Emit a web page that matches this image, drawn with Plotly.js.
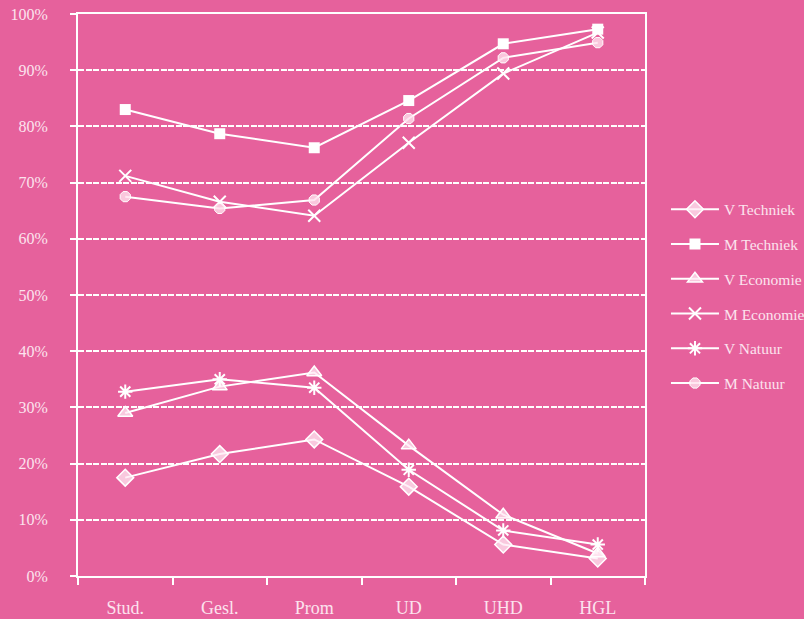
<!DOCTYPE html>
<html>
<head>
<meta charset="utf-8">
<script src="https://cdn.plot.ly/plotly-3.0.1.min.js"></script>
<style>html,body{margin:0;padding:0;background:#E6619C;}#chart{width:804px;height:619px;}</style>
</head>
<body>
<div id="chart"></div>
<script>
var categories = ["Stud.", "Gesl.", "Prom", "UD", "UHD", "HGL"];
var vTechniek = [17.5, 21.7, 24.3, 15.9, 5.6, 3.1];
var mTechniek = [83.0, 78.7, 76.2, 84.6, 94.7, 97.3];
var vEconomie = [29.0, 33.7, 36.2, 23.2, 10.9, 4.0];
var mEconomie = [71.2, 66.6, 64.1, 77.1, 89.4, 96.7];
var vNatuur = [32.8, 35.0, 33.5, 18.9, 8.1, 5.6];
var mNatuur = [67.5, 65.4, 66.9, 81.4, 92.2, 94.9];
var seriesNames = ["V Techniek", "M Techniek", "V Economie", "M Economie", "V Natuur", "M Natuur"];

var bg = "#E6619C";
var txt = "#FCE3EE";
var seriesData = [vTechniek, mTechniek, vEconomie, mEconomie, vNatuur, mNatuur];
var markers = [
  {symbol: "diamond", size: 13, color: "rgba(255,235,244,0.75)", line: {color: "#ffffff", width: 1.5}},
  {symbol: "square", size: 11, color: "#ffffff", line: {color: "#ffffff", width: 0}},
  {symbol: "triangle-up", size: 13, color: "rgba(255,235,244,0.75)", line: {color: "#ffffff", width: 1.5}},
  {symbol: "x-thin-open", size: 12, color: "#ffffff", line: {color: "#ffffff", width: 2}},
  {symbol: "asterisk-open", size: 12, color: "#ffffff", line: {color: "#ffffff", width: 2}},
  {symbol: "octagon", size: 11, color: "rgba(255,225,238,0.8)", line: {color: "#ffffff", width: 1}}
];

var traces = seriesData.map(function (vals, i) {
  return {
    x: categories, y: vals, name: seriesNames[i], type: "scatter", mode: "lines+markers",
    line: {color: "#ffffff", width: 2},
    marker: markers[i],
    legendgroup: "g" + i
  };
});

var layout = {
  width: 804, height: 619,
  paper_bgcolor: bg, plot_bgcolor: bg,
  margin: {l: 78, r: 159, t: 14, b: 43, autoexpand: false},
  font: {family: "Liberation Serif, Times New Roman, serif", color: txt, size: 16},
  showlegend: true,
  legend: {
    x: 1.037, xanchor: "left", y: 0.682, yanchor: "top",
    bgcolor: "rgba(0,0,0,0)", font: {size: 15.5, color: txt},
    itemwidth: 48, tracegroupgap: 11.6
  },
  xaxis: {
    type: "category", range: [-0.5, 5.5],
    showline: true, linecolor: "#ffffff", linewidth: 2, mirror: true,
    ticks: "outside", tickson: "boundaries", ticklen: 7, tickwidth: 2, tickcolor: "#ffffff",
    showgrid: false, zeroline: false,
    tickfont: {size: 18, color: txt}, ticklabelstandoff: 14
  },
  yaxis: {
    range: [0, 100], dtick: 10, ticksuffix: "%",
    showline: true, linecolor: "#ffffff", linewidth: 2, mirror: true,
    ticks: "outside", ticklen: 6, tickwidth: 2, tickcolor: "#ffffff",
    showgrid: true, gridcolor: "#ffffff", gridwidth: 2, griddash: "6px,1.5px",
    zeroline: false,
    tickfont: {size: 16, color: txt}, ticklabelstandoff: 19
  }
};

Plotly.newPlot("chart", traces, layout, {displayModeBar: false, staticPlot: true});
</script>
</body>
</html>
